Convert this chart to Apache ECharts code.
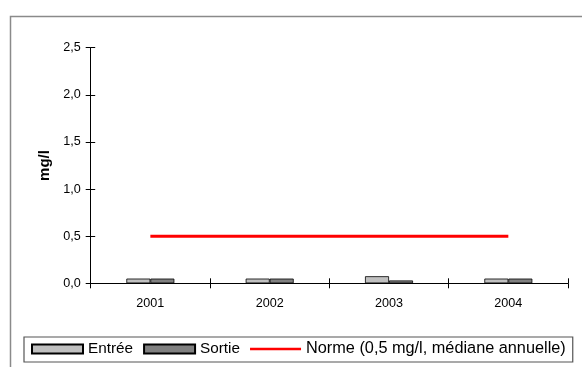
<!DOCTYPE html>
<html>
<head>
<meta charset="utf-8">
<script src="https://cdn.jsdelivr.net/npm/echarts@6/dist/echarts.min.js"></script>
<style>
html,body{margin:0;padding:0;background:#fff;}
#chart{width:582px;height:367px;}
</style>
</head>
<body>
<div id="chart"></div>
<script>
const categories = ['2001', '2002', '2003', '2004'];
const entree = [0.05, 0.05, 0.075, 0.05];
const sortie = [0.05, 0.05, 0.03, 0.05];
const norme = [0.5, 0.5, 0.5, 0.5];
const seriesNames = ['Entrée', 'Sortie', 'Norme (0,5 mg/l, médiane annuelle)'];
const yAxisName = 'mg/l';

const FONT = '"Liberation Sans", Arial, sans-serif';
const chart = echarts.init(document.getElementById('chart'), null, {renderer: 'canvas'});
const fmt = v => v.toFixed(1).replace('.', ',');

chart.setOption({
  animation: false,
  backgroundColor: '#fff',
  textStyle: {fontFamily: FONT, color: '#000'},
  graphic: [{
    type: 'rect', left: 8, top: 14, z: -1,
    shape: {x: 0, y: 0, width: 590, height: 380},
    style: {fill: 'none', stroke: '#8a8a8a', lineWidth: 1.5}
  }],
  grid: {left: 90.7, right: 14, top: 47.7, bottom: 83.7, containLabel: false},
  legend: {
    left: 24, top: 337,
    padding: [4, 7, 5, 7],
    itemGap: 10,
    itemWidth: 51, itemHeight: 9,
    borderColor: '#555', borderWidth: 1.2,
    textStyle: {
      fontFamily: FONT, fontSize: 15.3, color: '#000',
      rich: {n: {fontFamily: FONT, fontSize: 16.3, color: '#000'}}
    },
    formatter: name => name === seriesNames[2] ? '{n|' + name + '}' : name,
    data: [
      {name: seriesNames[0], icon: 'rect'},
      {name: seriesNames[1], icon: 'rect'},
      {name: seriesNames[2], icon: 'path://M0,0 L0.01,0 M0,3.3 L51,3.3 L51,5.7 L0,5.7 Z M51,9 L50.99,9'}
    ]
  },
  xAxis: [{
    type: 'category', data: categories, boundaryGap: true,
    axisLine: {show: true, lineStyle: {color: '#000', width: 1}},
    axisTick: {show: true, inside: false, length: 5, lineStyle: {color: '#000'}},
    axisLabel: {fontFamily: FONT, fontSize: 12.6, color: '#000', margin: 14}
  }, {
    type: 'category', data: categories, boundaryGap: true, position: 'bottom',
    axisLine: {show: false},
    axisTick: {show: true, inside: true, length: 5, lineStyle: {color: '#000'}},
    axisLabel: {show: false}
  }],
  yAxis: [{
    type: 'value', min: 0, max: 2.5, interval: 0.5,
    name: yAxisName, nameLocation: 'middle', nameGap: 38, nameRotate: 90,
    nameTextStyle: {fontFamily: FONT, fontSize: 15, fontWeight: 'bold', color: '#000'},
    splitLine: {show: false},
    axisLine: {show: true, lineStyle: {color: '#000', width: 1}},
    axisTick: {show: true, inside: false, length: 5, lineStyle: {color: '#000'}},
    axisLabel: {fontFamily: FONT, fontSize: 12.6, color: '#000', margin: 10, formatter: fmt}
  }, {
    type: 'value', min: 0, max: 2.5, interval: 0.5, position: 'left',
    splitLine: {show: false},
    axisLine: {show: false},
    axisTick: {show: true, inside: true, length: 4.5, lineStyle: {color: '#000'}},
    axisLabel: {show: false}
  }],
  series: [{
    name: seriesNames[0], type: 'bar', data: entree,
    barWidth: 24, barGap: '0%',
    itemStyle: {color: '#c0c0c0', borderColor: '#000', borderWidth: 0.8}
  }, {
    name: seriesNames[1], type: 'bar', data: sortie,
    barWidth: 24, barGap: '0%',
    itemStyle: {color: '#808080', borderColor: '#000', borderWidth: 0.8}
  }, {
    name: seriesNames[2], type: 'line', data: norme,
    symbol: 'none', showSymbol: false,
    lineStyle: {color: '#ff0000', width: 3},
    itemStyle: {color: '#ff0000'}
  }]
});
</script>
</body>
</html>
